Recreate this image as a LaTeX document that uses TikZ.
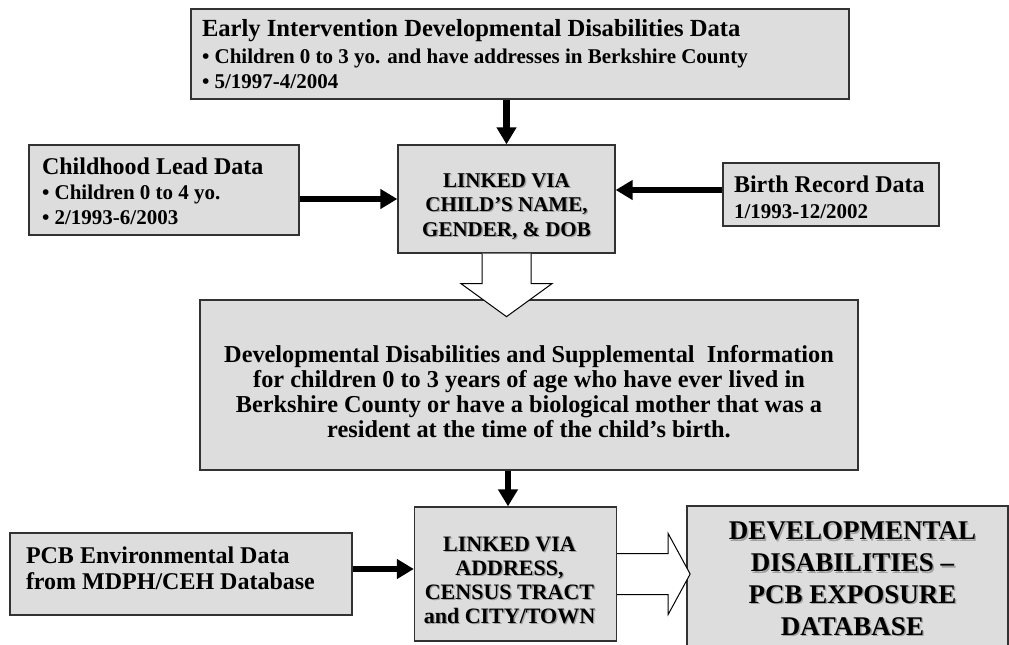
\documentclass[tikz,border=0pt]{standalone}
\usepackage{fontspec}
\setmainfont{Liberation Serif}
\usetikzlibrary{arrows.meta}
\definecolor{boxfill}{RGB}{221,221,221}
\definecolor{boxline}{RGB}{50,50,50}
\definecolor{shadowgray}{RGB}{160,160,160}
\newcommand\boxtxt[3]{\raisebox{#1pt}[0pt][0pt]{\parbox[b]{#2pt}{#3}}}
\newcommand\shtxt[3]{\raisebox{#1pt}[0pt][0pt]{\rlap{\kern1.4pt\raisebox{-1.4pt}{\color{shadowgray}\parbox[b]{#2pt}{#3}}}\parbox[b]{#2pt}{#3}}}
\tikzset{
  box/.style={draw=boxline, fill=boxfill, line width=1.3pt, inner sep=0pt, font=\bfseries},
  link/.style={line width=6.5pt, -{Triangle[length=17pt,width=19pt]}},
  hollow/.style={draw=black, line width=1pt, fill=white, line join=miter}
}
\begin{document}
\begin{tikzpicture}[x=1pt,y=-1pt]
\clip (0,0) rectangle (1009,645);
\fill[white] (0,0) rectangle (1009,645);

\node[box, minimum width=658pt, minimum height=90pt] (top) at (520,54)
 {\boxtxt{-34}{636}{\raggedright\fontsize{24.6}{25}\selectfont Early Intervention Developmental Disabilities Data\\[2pt]\fontsize{21}{25}\selectfont • Children 0 to 3 yo. and have addresses in Berkshire County\\• 5/1997-4/2004}};

\node[box, minimum width=270pt, minimum height=90pt] (lead) at (164,190)
 {\boxtxt{-34}{244}{\raggedright\fontsize{24}{24.5}\selectfont Childhood Lead Data\\[0.5pt]\fontsize{21}{24.5}\selectfont • Children 0 to 4 yo.\\• 2/1993-6/2003}};

\node[box, minimum width=216pt, minimum height=63pt] (birth) at (831,194.5)
 {\boxtxt{-23.5}{194}{\raggedright\fontsize{24}{26}\selectfont Birth Record Data\\\fontsize{21}{26}\selectfont 1/1993-12/2002}};

\node[box, minimum width=217pt, minimum height=108pt] (l1) at (506.5,199)
 {\shtxt{-37}{210}{\centering\fontsize{21}{24.5}\selectfont LINKED VIA\\CHILD’S NAME,\\GENDER, \& DOB}};

\node[box, minimum width=658pt, minimum height=170pt] (mid) at (529,385)
 {\boxtxt{-52}{650}{\centering\fontsize{24.3}{25}\selectfont Developmental Disabilities and Supplemental~ Information\\for children 0 to 3 years of age who have ever lived in\\Berkshire County or have a biological mother that was a\\resident at the time of the child’s birth.}};

\node[box, minimum width=342pt, minimum height=82pt] (pcb) at (181,574)
 {\boxtxt{-15}{310}{\raggedright\fontsize{24}{26}\selectfont PCB Environmental Data\\from MDPH/CEH Database}};

\node[box, minimum width=197pt, minimum height=134pt] (l2) at (515.5,574)
 {\shtxt{-49}{190}{\centering\fontsize{22}{24}\selectfont LINKED VIA\\ADDRESS,\\CENSUS TRACT\\and CITY/TOWN}\kern12pt};

\node[box, minimum width=321pt, minimum height=154pt] (out) at (847.5,583)
 {\kern10pt\shtxt{-52}{300}{\centering\fontsize{27}{31.7}\selectfont DEVELOPMENTAL\\DISABILITIES –\\PCB EXPOSURE\\DATABASE}};

% hollow arrows
\filldraw[hollow] ([shift={(-24.5,0)}]l1.south) -- ++(0,30) -- ++(-21,0)
  -- ([shift={(0,63)}]l1.south) -- ([shift={(45.5,30)}]l1.south) -- ++(-21,0)
  -- ([shift={(24.5,0)}]l1.south);
\filldraw[hollow] ([shift={(0,-20.5)}]l2.east) -- ++(51,0) -- ++(0,-20)
  -- ([shift={(73,0)}]l2.east) -- ([shift={(51,40.5)}]l2.east) -- ++(0,-20)
  -- ([shift={(0,20.5)}]l2.east);

% thick connectors
\coordinate (bw) at ([yshift=4.5pt]birth.west);
\coordinate (pe) at ([yshift=5pt]pcb.east);
\coordinate (l2in) at ([xshift=-7.5pt]l2.north);
\draw[link] (top.south -| l1.north) -- (l1.north);
\draw[link] (lead.east |- l1.west) -- (l1.west);
\draw[link] (bw) -- (bw -| l1.east);
\draw[link] (mid.south -| l2in) -- (l2in);
\draw[link] (pe) -- (pe -| l2.west);
\end{tikzpicture}
\end{document}
